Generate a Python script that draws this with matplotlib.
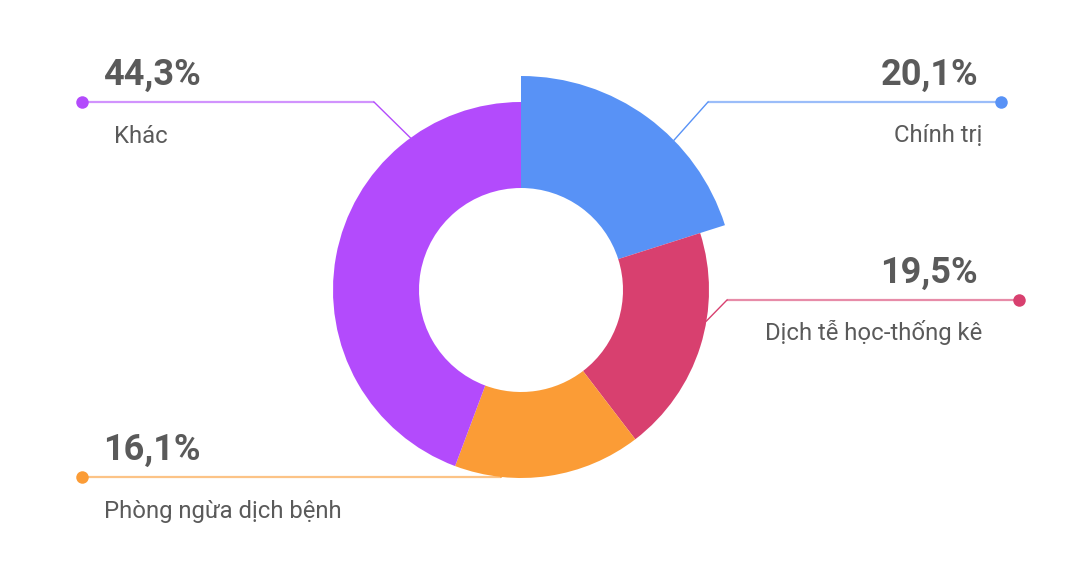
# Donut chart: share of topics (Vietnamese labels)

import numpy as np
import matplotlib.pyplot as plt

# data
labels = ['Chính trị', 'Dịch tễ học-thống kê', 'Phòng ngừa dịch bệnh', 'Khác']
values = [20.1, 19.5, 16.1, 44.3]
pct_labels = ['20,1%', '19,5%', '16,1%', '44,3%']
colors = ['#5892F6', '#D8406F', '#FB9C36', '#B34BFC']

W, H = 1090, 571
fig = plt.figure(figsize=(W / 100, H / 100), dpi=100)
ax = fig.add_axes([0, 0, 1, 1])

cx, cy = 521, H - 290
r_out, r_in = 188, 102

wedges, _ = ax.pie(values, colors=colors, startangle=90, counterclock=False,
                   center=(cx, cy), radius=r_out, frame=True,
                   wedgeprops=dict(width=r_out - r_in, linewidth=0, zorder=3))
ax.set_xlim(0, W)
ax.set_ylim(0, H)
ax.set_aspect('equal')
ax.axis('off')

# first slice is drawn bigger
wedges[0].set_radius(214)
wedges[0].set_width(214 - r_in)

# label layout: dot x, line y (pixels from top), elbow x, anchor angle, anchor r, side
layout = [
    (1001, 102, 708, 44.4, 214, 'right'),
    (1019, 300, 727, -9.5, 188, 'right'),
    (82, 477, 501, -96, 188, 'left'),
    (82, 102, 374, 126, 188, 'left'),
]

text_col = '#5a5a5a'
for i, (dx, ly, ex, ang, ar, side) in enumerate(layout):
    y = H - ly
    axx = cx + ar * np.cos(np.radians(ang))
    axy = cy + ar * np.sin(np.radians(ang))
    ax.plot([dx, ex], [y, y], color=colors[i], lw=1.6, alpha=0.6, zorder=1,
            solid_capstyle='butt')
    ax.plot([ex, axx], [y, axy], color=colors[i], lw=1.0, zorder=2)
    ax.plot(dx, y, 'o', color=colors[i], ms=9, mec='none', zorder=4)
    if side == 'right':
        ax.text(978, y + 17, pct_labels[i], ha='right', va='baseline',
                fontsize=26, fontweight='bold', color=text_col, family='Roboto')
        ax.text(982, y - 40, labels[i], ha='right', va='baseline',
                fontsize=17.2, color=text_col, family='Roboto')
    else:
        nx = 114 if i == 3 else 104
        ax.text(103, y + 17, pct_labels[i], ha='left', va='baseline',
                fontsize=26, fontweight='bold', color=text_col, family='Roboto')
        ax.text(nx, y - 41, labels[i], ha='left', va='baseline',
                fontsize=17.2, color=text_col, family='Roboto')

fig.savefig('out.png', dpi=100, facecolor='white')
